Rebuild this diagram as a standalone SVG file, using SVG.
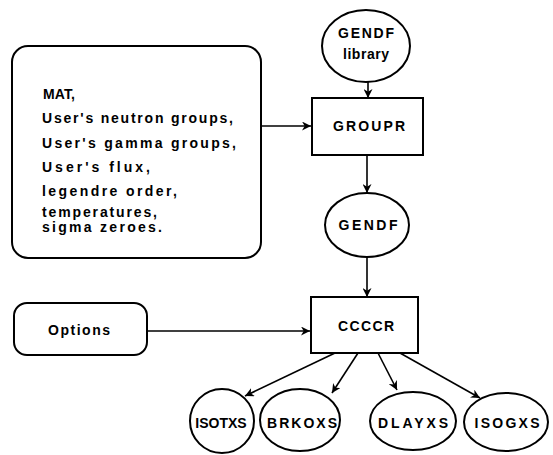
<svg xmlns="http://www.w3.org/2000/svg" width="553" height="455" viewBox="0 0 553 455">
<defs>
<marker id="ah" viewBox="0 0 10 10" refX="10" refY="5" markerWidth="9" markerHeight="9" markerUnits="userSpaceOnUse" orient="auto">
<path d="M0,0 L10,5 L0,10 L3,5 Z" fill="#000"/>
</marker>
</defs>
<style>
.s{fill:#fff;stroke:#000;stroke-width:2}
.t{font-family:"Liberation Sans",Arial,sans-serif;font-weight:bold;font-size:14px;fill:#000;text-anchor:middle;dominant-baseline:central}
.b{font-family:"Liberation Sans",Arial,sans-serif;font-weight:bold;font-size:14px;fill:#000}
.c{fill:none;stroke:#000;stroke-width:1.6;marker-end:url(#ah)}
</style>
<rect width="553" height="455" fill="#fff"/>
<g id="inputs">
<rect class="s" x="12" y="46" width="249" height="212" rx="16"/>
<text class="b" x="43" y="99" textLength="32" lengthAdjust="spacing">MAT,</text>
<text class="b" x="42" y="123" textLength="191" lengthAdjust="spacing">User's neutron groups,</text>
<text class="b" x="42" y="148" textLength="194" lengthAdjust="spacing">User's gamma groups,</text>
<text class="b" x="42" y="172" textLength="108" lengthAdjust="spacing">User's flux,</text>
<text class="b" x="42" y="196" textLength="135" lengthAdjust="spacing">legendre order,</text>
<text class="b" x="42" y="217" textLength="115" lengthAdjust="spacing">temperatures,</text>
<text class="b" x="42" y="232" textLength="120" lengthAdjust="spacing">sigma zeroes.</text>
</g>
<g id="gendf-library">
<ellipse class="s" cx="366" cy="46" rx="44" ry="36"/>
<text class="t" x="366" y="33" textLength="56" lengthAdjust="spacing">GENDF</text>
<text class="t" x="366" y="54" textLength="46" lengthAdjust="spacing">library</text>
</g>
<g id="groupr">
<rect class="s" x="312" y="98" width="111" height="57"/>
<text class="t" x="369" y="126" textLength="72" lengthAdjust="spacing">GROUPR</text>
</g>
<g id="gendf">
<ellipse class="s" cx="367" cy="225" rx="42" ry="32"/>
<text class="t" x="368" y="225" textLength="59" lengthAdjust="spacing">GENDF</text>
</g>
<g id="options">
<rect class="s" x="14" y="303" width="133" height="52" rx="13"/>
<text class="t" x="79" y="330" textLength="62" lengthAdjust="spacing">Options</text>
</g>
<g id="ccccr">
<rect class="s" x="311" y="297" width="107" height="56"/>
<text class="t" x="366" y="326" textLength="56" lengthAdjust="spacing">CCCCR</text>
</g>
<g id="isotxs">
<ellipse class="s" cx="222" cy="421" rx="32" ry="32"/>
<text class="t" x="221" y="423">ISOTXS</text>
</g>
<g id="brkoxs">
<ellipse class="s" cx="300" cy="420" rx="40" ry="31"/>
<text class="t" x="302" y="423" textLength="70" lengthAdjust="spacing">BRKOXS</text>
</g>
<g id="dlayxs">
<ellipse class="s" cx="413" cy="421" rx="43" ry="29"/>
<text class="t" x="413" y="423" textLength="70" lengthAdjust="spacing">DLAYXS</text>
</g>
<g id="isogxs">
<ellipse class="s" cx="506" cy="422" rx="42" ry="29"/>
<text class="t" x="507" y="423" textLength="65" lengthAdjust="spacing">ISOGXS</text>
</g>
<g id="connectors">
<line class="c" x1="261" y1="126" x2="311" y2="126"/>
<line class="c" x1="368" y1="82" x2="368" y2="98"/>
<line class="c" x1="367" y1="155" x2="367" y2="193"/>
<line class="c" x1="367" y1="257" x2="367" y2="297"/>
<line class="c" x1="147" y1="331" x2="310" y2="331"/>
<line class="c" x1="335" y1="353" x2="245" y2="396"/>
<line class="c" x1="358" y1="353" x2="332" y2="393"/>
<line class="c" x1="378" y1="353" x2="397" y2="390"/>
<line class="c" x1="400" y1="353" x2="480" y2="398"/>
</g>
</svg>
